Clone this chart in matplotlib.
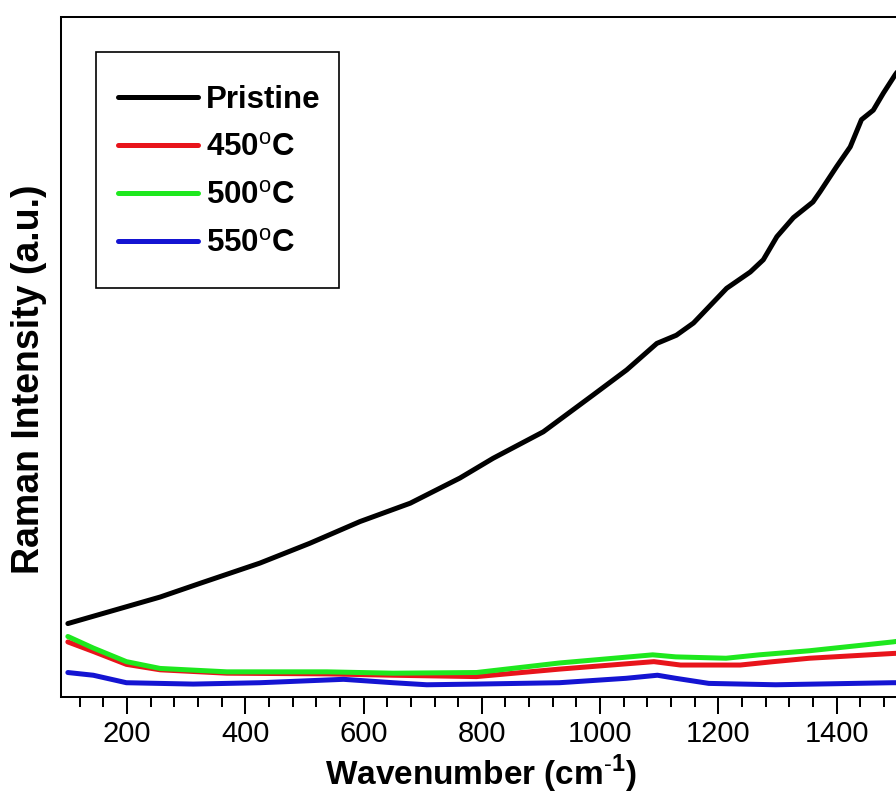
import matplotlib

matplotlib.use('Agg')
import matplotlib.pyplot as plt  # NOQA
from matplotlib.patches import Rectangle  # NOQA
from matplotlib.ticker import MultipleLocator  # NOQA

plt.rcParams['font.family'] = ['Liberation Sans', 'DejaVu Sans']
plt.rcParams['mathtext.fontset'] = 'custom'
plt.rcParams['mathtext.rm'] = 'Liberation Sans'
plt.rcParams['mathtext.bf'] = 'Liberation Sans:bold'

# Raman spectra, intensity in arbitrary units
wn_pristine = [100, 160, 256, 323, 425, 509, 594, 679, 763, 819, 904, 988,
               1045, 1096, 1129, 1158, 1214, 1254, 1276, 1299, 1327, 1360,
               1372, 1400, 1423, 1442, 1462, 1479, 1499, 1520]
i_pristine = [108, 123, 147, 167, 197, 226, 258, 285, 322, 351, 390, 444,
              481, 520, 532, 550, 601, 625, 643, 677, 705, 728,
              743, 780, 809, 849, 863, 888, 915, 940]

wn_450 = [100, 143, 199, 256, 369, 538, 650, 791, 931, 1091, 1136, 1237,
          1293, 1354, 1495, 1520]
i_450 = [81, 67, 48, 40, 35, 34, 32, 30, 41, 52, 47, 47, 52, 57, 64, 65]

wn_500 = [100, 143, 199, 256, 369, 538, 650, 791, 931, 1089, 1128, 1213,
          1269, 1354, 1495, 1520]
i_500 = [89, 72, 52, 42, 37, 37, 35, 36, 50, 62, 59, 57, 62, 68, 81, 84]

wn_550 = [100, 143, 199, 312, 425, 566, 650, 707, 791, 931, 1044, 1097,
          1128, 1184, 1297, 1495, 1520]
i_550 = [36, 32, 21, 19, 21, 26, 21, 18, 19, 21, 27.5, 32, 27.5, 20, 18,
         21, 21]

labels = ['Pristine', '450$^{\\rm o}$C', '500$^{\\rm o}$C', '550$^{\\rm o}$C']
colors = ['#000000', '#e8141b', '#1ee81e', '#1414d2']

W, H = 896., 795.
fig = plt.figure(figsize=(W / 100, H / 100), dpi=100)
ax = fig.add_axes([0.06808, 0.12327, 0.95871, 0.85535])

series = [(wn_pristine, i_pristine), (wn_450, i_450),
          (wn_500, i_500), (wn_550, i_550)]
for (x, y), lab, col in zip(series, labels, colors):
    ax.plot(x, y, color=col, lw=3.6, label=lab,
            solid_joinstyle='round', solid_capstyle='round')

ax.set_xlim(88.4, 1541)
ax.set_ylim(0, 1000)
ax.xaxis.set_major_locator(MultipleLocator(200))
ax.xaxis.set_minor_locator(MultipleLocator(40))
ax.set_yticks([])
ax.tick_params(axis='x', which='major', direction='out', length=12.2,
               width=1.45, labelsize=21, pad=4)
ax.tick_params(axis='x', which='minor', direction='out', length=7.2,
               width=1.45)
for sp in ax.spines.values():
    sp.set_linewidth(1.45)

fig.text(481 / W, 10 / H, 'Wavenumber (cm$^{\\text{-}\\mathbf{1}}$)',
         fontsize=24, fontweight='bold', ha='center', va='baseline')
fig.text(29 / W, 416 / H, 'Raman Intensity (a.u.)', fontsize=27,
         fontweight='bold', rotation=90, ha='center', va='center')

# legend entries without frame, box drawn separately so padding can differ
ax.legend(loc='upper left', bbox_to_anchor=(96 / W, 1 - 63 / H),
          bbox_transform=fig.transFigure, borderaxespad=0,
          prop={'size': 22.5, 'weight': 'bold'}, handlelength=2.55,
          handletextpad=0.28, labelspacing=0.58, borderpad=0.7,
          frameon=False)
fig.patches.append(Rectangle((96 / W, 1 - 288 / H), 243 / W, 236 / H,
                             transform=fig.transFigure, fill=False,
                             edgecolor='black', linewidth=1.2, zorder=5))

plt.savefig('out.png', dpi=100)
plt.close()
